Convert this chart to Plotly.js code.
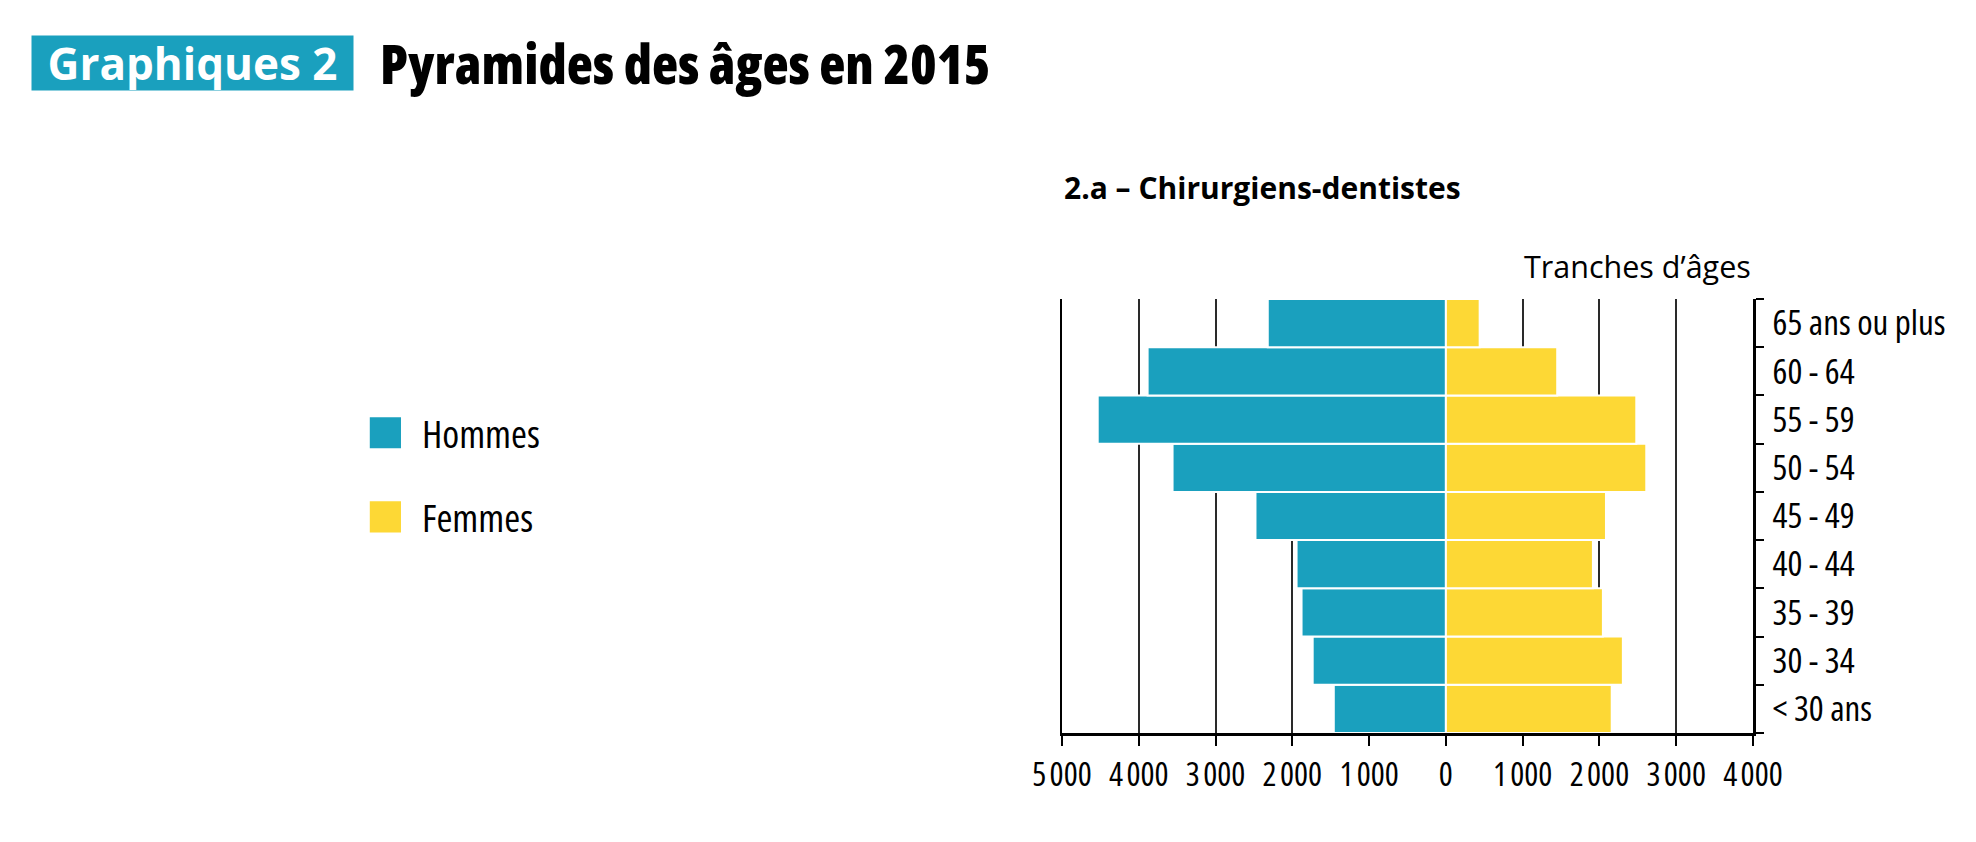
<!DOCTYPE html>
<html>
<head>
<meta charset="utf-8">
<script src="https://cdn.plot.ly/plotly-3.0.1.min.js"></script>
<style>
  html, body { margin: 0; padding: 0; background: #ffffff; }
  #chart { width: 1976px; height: 842px; }
  #chart .xtick text { font-stretch: 75%; }
  #chart .ytick text { font-stretch: 87.5%; }
  #chart .legendtext { font-stretch: 75%; }
  #chart .gtitle { font-stretch: 75%; }
  #chart g.annotation text { font-stretch: 100%; }
</style>
</head>
<body>
<div id="chart"></div>
<script>
// ---- Data ----
const categories = ['< 30 ans', '30 - 34', '35 - 39', '40 - 44', '45 - 49', '50 - 54', '55 - 59', '60 - 64', '65 ans ou plus'];
const hommes = [1460, 1735, 1880, 1945, 2480, 3560, 4535, 3885, 2320];
const femmes = [2160, 2305, 2045, 1915, 2085, 2610, 2480, 1450, 440];
const xTickVals = [-5000, -4000, -3000, -2000, -1000, 0, 1000, 2000, 3000, 4000];
const xTickText = ['5\u200a000', '4\u200a000', '3\u200a000', '2\u200a000', '1\u200a000', '0', '1\u200a000', '2\u200a000', '3\u200a000', '4\u200a000'];
const seriesNames = ['Hommes', 'Femmes'];

// ---- Styles ----
const TEAL = '#1aa0be';
const YELLOW = '#fdd835';
const FONT = '"Open Sans", "Noto Sans", sans-serif';

const traces = [
  {
    type: 'bar', orientation: 'h', name: seriesNames[0], legendgroup: 'h',
    y: categories, x: hommes.map(v => -v),
    marker: { color: TEAL, line: { color: '#ffffff', width: 2 } },
    hoverinfo: 'skip'
  },
  {
    type: 'bar', orientation: 'h', name: seriesNames[1], legendgroup: 'f',
    y: categories, x: femmes,
    marker: { color: YELLOW, line: { color: '#ffffff', width: 2 } },
    hoverinfo: 'skip'
  }
];

const layout = {
  width: 1976, height: 842,
  paper_bgcolor: '#ffffff', plot_bgcolor: '#ffffff',
  margin: { l: 1062, r: 223, t: 299, b: 109, pad: 0 },
  barmode: 'relative', bargap: 0,
  font: { family: FONT, color: '#000000' },
  title: {
    text: 'Pyramides des âges en 2015',
    xref: 'container', yref: 'container',
    x: 0.1923, xanchor: 'left', y: 0.923, yanchor: 'middle',
    font: { family: FONT, size: 54, weight: 800, color: '#000000' }
  },
  xaxis: {
    range: [-5000, 4000], fixedrange: true,
    tickmode: 'array', tickvals: xTickVals, ticktext: xTickText, tickangle: 0,
    showgrid: true, gridcolor: '#2a2a2a', gridwidth: 2,
    zeroline: false,
    showline: true, linecolor: '#000000', linewidth: 3,
    ticks: 'outside', ticklen: 10, tickwidth: 2, tickcolor: '#000000',
    tickfont: { family: FONT, size: 33, color: '#000000' }
  },
  yaxis: {
    type: 'category', categoryorder: 'array', categoryarray: categories,
    fixedrange: true, side: 'right', mirror: true,
    showgrid: false, zeroline: false,
    showline: true, linecolor: '#000000', linewidth: 2.5,
    ticks: 'outside', tickson: 'boundaries', ticklen: 8, tickwidth: 2, tickcolor: '#000000',
    ticklabelstandoff: 10,
    tickfont: { family: FONT, size: 35, color: '#000000' }
  },
  showlegend: true,
  legend: {
    x: -1.032, xanchor: 'left', y: 0.594, yanchor: 'middle',
    traceorder: 'grouped', tracegroupgap: 31,
    itemwidth: 63, bgcolor: 'rgba(0,0,0,0)',
    font: { family: FONT, size: 38.5, color: '#000000' }
  },
  annotations: [
    {
      text: 'Graphiques 2', xref: 'paper', yref: 'paper',
      x: -1.2576, y: 1.5438, xanchor: 'center', yanchor: 'middle', align: 'center',
      width: 321, height: 54, borderpad: 0, bgcolor: TEAL, showarrow: false,
      font: { family: FONT, size: 44, weight: 700, color: '#ffffff' }
    },
    {
      text: '2.a – Chirurgiens-dentistes', xref: 'paper', yref: 'paper',
      x: 0, y: 1.258, xanchor: 'left', yanchor: 'middle', align: 'left', showarrow: false,
      font: { family: FONT, size: 30, weight: 700, color: '#000000' }
    },
    {
      text: 'Tranches d’âges', xref: 'paper', yref: 'paper',
      x: 1, y: 1.075, xanchor: 'right', yanchor: 'middle', align: 'right', showarrow: false,
      font: { family: FONT, size: 30.5, color: '#000000' }
    }
  ]
};

Plotly.newPlot('chart', traces, layout, { displayModeBar: false, staticPlot: true }).then(function () {
  document.querySelectorAll('#chart .legend .legendpoints path').forEach(function (p) {
    var t = p.getAttribute('transform') || '';
    p.setAttribute('transform', t + ' scale(2.6)');
    p.style.strokeWidth = '0px';
  });
});
</script>
</body>
</html>
